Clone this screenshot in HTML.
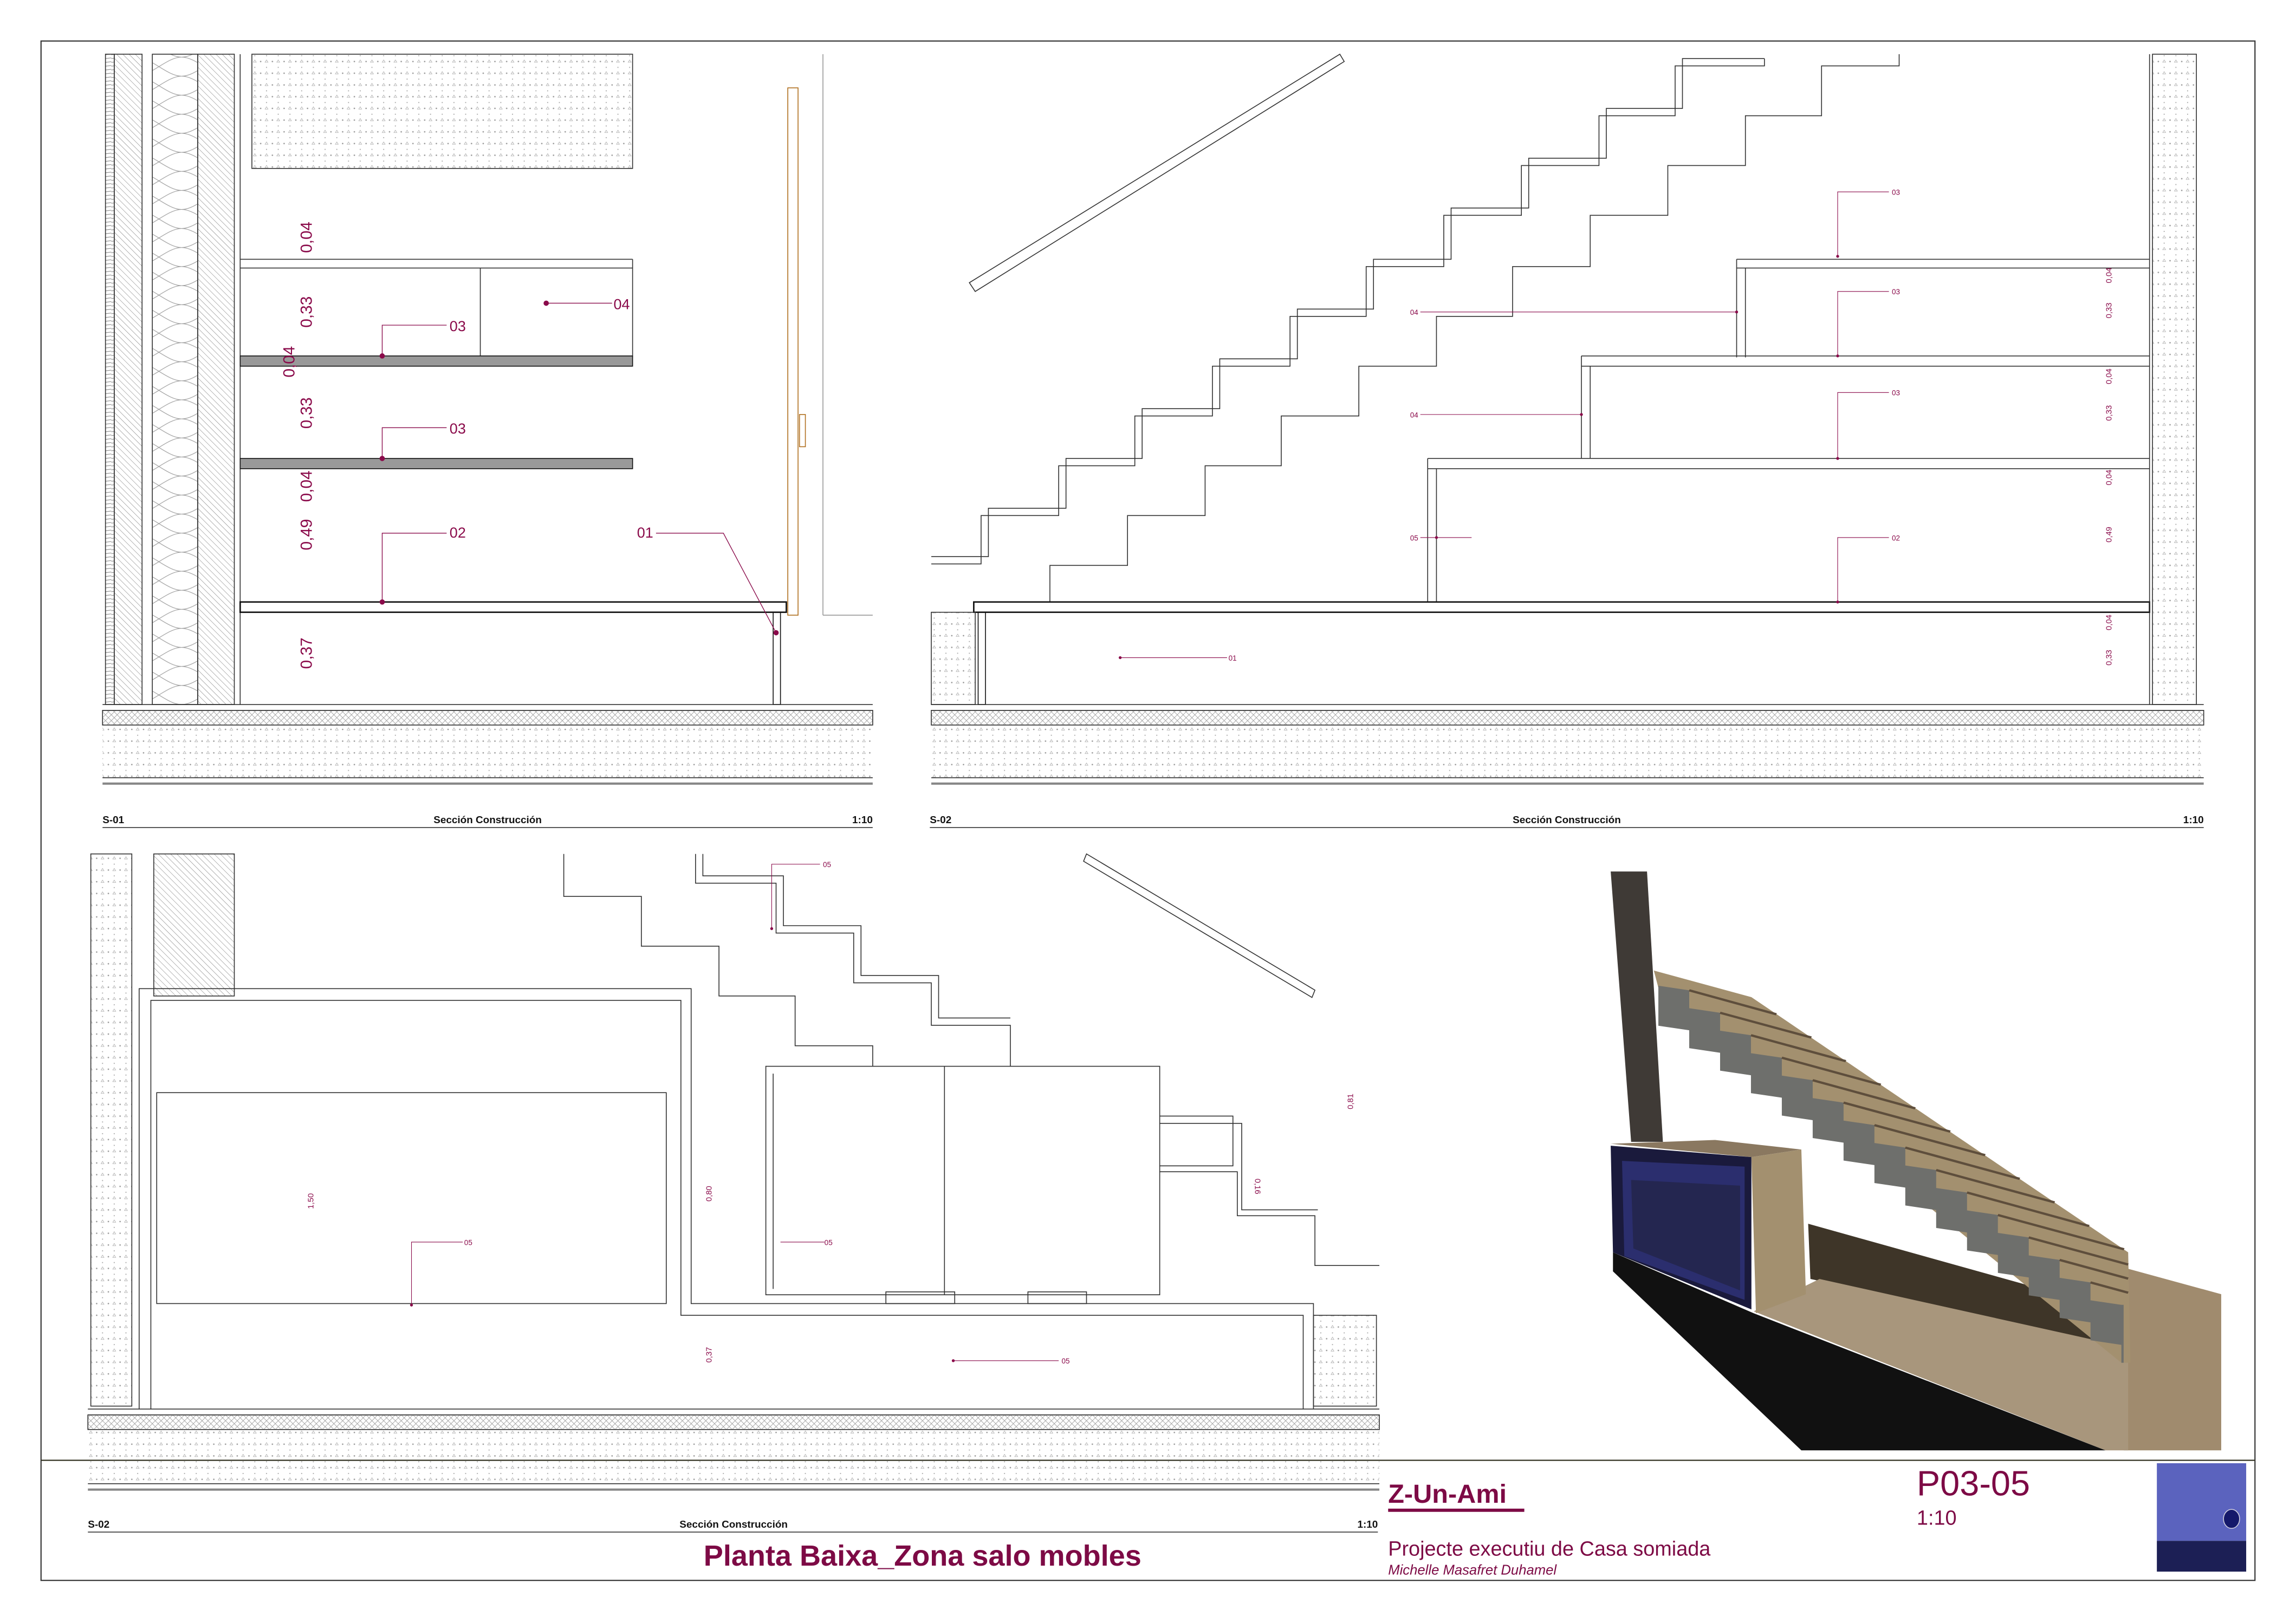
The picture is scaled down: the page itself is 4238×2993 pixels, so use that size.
<!DOCTYPE html>
<html><head><meta charset="utf-8"><style>
html,body{margin:0;padding:0;background:#fff}
svg{display:block}
text{font-family:"Liberation Sans",Arial,sans-serif}
</style></head><body>
<svg width="4238" height="2993" viewBox="0 0 1568 1107.4" xmlns="http://www.w3.org/2000/svg">
<defs>
<pattern id="dots" width="8" height="8" patternUnits="userSpaceOnUse"><circle cx="2" cy="2" r="0.5" fill="#999"/><circle cx="6" cy="6" r="0.4" fill="#aaa"/><path d="M5 2.5l1 -1.6 1 1.6z" fill="none" stroke="#aaa" stroke-width="0.3"/></pattern>
<pattern id="hatch" width="3" height="3" patternUnits="userSpaceOnUse" patternTransform="rotate(-45)"><line x1="0" y1="0" x2="0" y2="3" stroke="#777" stroke-width="0.4"/></pattern>
<pattern id="hh" width="4" height="2.6" patternUnits="userSpaceOnUse"><line x1="0" y1="1" x2="4" y2="0.5" stroke="#888" stroke-width="0.4"/></pattern>
<pattern id="ins2" width="31" height="13" patternUnits="userSpaceOnUse"><path d="M0 0 C10 0 21 13 31 13 M0 13 C10 13 21 0 31 0" fill="none" stroke="#999" stroke-width="0.4"/></pattern>
<pattern id="xh" width="4" height="4" patternUnits="userSpaceOnUse"><path d="M0 4L4 0M0 0L4 4" stroke="#999" stroke-width="0.3"/></pattern>
</defs>
<rect x="28" y="28" width="1512" height="1051" fill="none" stroke="#333" stroke-width="0.8"/>

<!-- ============ S-01 ============ -->
<g stroke="#333" stroke-width="0.6" fill="none">
<rect x="72" y="37" width="6" height="444" fill="url(#hh)"/>
<rect x="78" y="37" width="19" height="444" fill="url(#hatch)"/>
<rect x="104" y="37" width="31" height="444" fill="url(#ins2)"/>
<rect x="135" y="37" width="25" height="444" fill="url(#hatch)"/>
<line x1="164" y1="37" x2="164" y2="481"/>
<rect x="172" y="37" width="260" height="78" fill="url(#dots)"/>
<line x1="164" y1="177" x2="432" y2="177"/><line x1="164" y1="183" x2="432" y2="183"/>
<line x1="328" y1="183" x2="328" y2="244"/><line x1="432" y1="177" x2="432" y2="244"/>
<rect x="164" y="243" width="268" height="7" fill="#999" stroke="#111"/>
<rect x="164" y="313" width="268" height="7" fill="#999" stroke="#111"/>
<rect x="164" y="411" width="373" height="7" stroke="#111" stroke-width="1"/>
<rect x="528" y="418" width="5" height="63" stroke="#111"/>
<rect x="538" y="60" width="7" height="360" stroke="#b07020" stroke-width="0.6"/>
<rect x="546" y="283" width="4" height="22" stroke="#b07020"/>
<line x1="562" y1="37" x2="562" y2="420" stroke="#999"/><line x1="562" y1="420" x2="596" y2="420" stroke="#999"/>
<line x1="70" y1="481" x2="596" y2="481"/><line x1="70" y1="485" x2="596" y2="485"/>
<rect x="70" y="485" width="526" height="10" fill="url(#xh)"/>
<rect x="70" y="495" width="526" height="36" fill="url(#dots)" stroke="none"/>
<line x1="70" y1="531" x2="596" y2="531"/><line x1="70" y1="535" x2="596" y2="535" stroke-width="1.5" stroke="#888"/>
</g>
<g stroke="#8a0a4a" stroke-width="0.5" fill="none">
<polyline points="261,243 261,222 305,222"/><polyline points="261,313 261,292 305,292"/>
<polyline points="261,411 261,364 305,364"/><polyline points="373,207 418,207"/>
<polyline points="448,364 494,364 530,432"/>
</g>
<g fill="#8a0a4a"><circle cx="261" cy="243" r="1.8"/><circle cx="261" cy="313" r="1.8"/><circle cx="261" cy="411" r="1.8"/><circle cx="373" cy="207" r="1.8"/><circle cx="530" cy="432" r="1.8"/></g>
<g fill="#8a0a4a" font-size="10">
<text x="307" y="226">03</text><text x="307" y="296">03</text><text x="307" y="367">02</text><text x="419" y="211">04</text><text x="435" y="367">01</text>
</g>
<g fill="#8a0a4a" font-size="11" text-anchor="middle">
<text transform="translate(213,162) rotate(-90)">0,04</text>
<text transform="translate(213,213) rotate(-90)">0,33</text>
<text transform="translate(201,247) rotate(-90)">0,04</text>
<text transform="translate(213,282) rotate(-90)">0,33</text>
<text transform="translate(213,332) rotate(-90)">0,04</text>
<text transform="translate(213,365) rotate(-90)">0,49</text>
<text transform="translate(213,446) rotate(-90)">0,37</text>
</g>
<g font-size="7" font-weight="bold" fill="#111">
<text x="70" y="562">S-01</text><text x="333" y="562" text-anchor="middle">Sección Construcción</text><text x="596" y="562" text-anchor="end">1:10</text>
<text x="635" y="562">S-02</text><text x="1070" y="562" text-anchor="middle">Sección Construcción</text><text x="1505" y="562" text-anchor="end">1:10</text>
<text x="60" y="1043">S-02</text><text x="501" y="1043" text-anchor="middle">Sección Construcción</text><text x="941" y="1043" text-anchor="end">1:10</text>
</g>
<g stroke="#333" stroke-width="0.6"><line x1="70" y1="565" x2="596" y2="565"/><line x1="635" y1="565" x2="1505" y2="565"/><line x1="60" y1="1046" x2="941" y2="1046"/></g>

<!-- ============ S-02 top ============ -->
<g stroke="#333" stroke-width="0.6" fill="none">
<polygon points="662,193 915,37 918,42 666,199"/>
<polyline points="636,380 675,380 675,347 728,347 728,313 780,313 780,279 833,279 833,245 886,245 886,211 938,211 938,177 991,177 991,142 1044,142 1044,108 1097,108 1097,74 1149,74 1149,40 1205,40"/>
<polyline points="636,385 670,385 670,352 723,352 723,318 775,318 775,284 828,284 828,250 881,250 881,216 933,216 933,182 986,182 986,147 1039,147 1039,113 1092,113 1092,79 1144,79 1144,45 1205,45 1205,40"/>
<polyline points="1297,37 1297,45 1244,45 1244,79 1192,79 1192,113 1139,113 1139,147 1086,147 1086,182 1033,182 1033,216 981,216 981,250 928,250 928,284 875,284 875,318 823,318 823,352 770,352 770,386 717,386 717,411"/>
<line x1="1186" y1="177" x2="1468" y2="177"/><line x1="1186" y1="183" x2="1468" y2="183"/>
<line x1="1186" y1="177" x2="1186" y2="244"/><line x1="1192" y1="183" x2="1192" y2="244"/>
<line x1="1080" y1="243" x2="1468" y2="243"/><line x1="1080" y1="250" x2="1468" y2="250"/>
<line x1="1080" y1="243" x2="1080" y2="313"/><line x1="1086" y1="250" x2="1086" y2="313"/>
<line x1="975" y1="313" x2="1468" y2="313"/><line x1="975" y1="320" x2="1468" y2="320"/>
<line x1="975" y1="313" x2="975" y2="411"/><line x1="981" y1="320" x2="981" y2="411"/>
<rect x="665" y="411" width="803" height="7" stroke="#111" stroke-width="1"/>
<rect x="668" y="418" width="5" height="63" stroke="#111"/>
<rect x="636" y="418" width="30" height="63" fill="url(#dots)"/>
<rect x="1470" y="37" width="30" height="444" fill="url(#dots)"/>
<line x1="1468" y1="37" x2="1468" y2="481"/>
<line x1="636" y1="481" x2="1505" y2="481"/><line x1="636" y1="485" x2="1505" y2="485"/>
<rect x="636" y="485" width="869" height="10" fill="url(#xh)"/>
<rect x="636" y="495" width="869" height="36" fill="url(#dots)" stroke="none"/>
<line x1="636" y1="531" x2="1505" y2="531"/><line x1="636" y1="535" x2="1505" y2="535" stroke-width="1.5" stroke="#888"/>
</g>
<g stroke="#8a0a4a" stroke-width="0.4" fill="none">
<polyline points="1255,175 1255,131 1290,131"/><polyline points="1255,243 1255,199 1290,199"/><polyline points="1255,313 1255,268 1290,268"/><polyline points="1255,411 1255,367 1290,367"/>
<line x1="970" y1="213" x2="1186" y2="213"/><line x1="970" y1="283" x2="1080" y2="283"/><line x1="970" y1="367" x2="1005" y2="367"/><line x1="765" y1="449" x2="838" y2="449"/>
</g>
<g fill="#8a0a4a"><circle cx="1255" cy="175" r="1"/><circle cx="1255" cy="243" r="1"/><circle cx="1255" cy="313" r="1"/><circle cx="1255" cy="411" r="1"/><circle cx="1186" cy="213" r="1"/><circle cx="1080" cy="283" r="1"/><circle cx="981" cy="367" r="1"/><circle cx="765" cy="449" r="1"/></g>
<g fill="#8a0a4a" font-size="5">
<text x="1292" y="133">03</text><text x="1292" y="201">03</text><text x="1292" y="270">03</text><text x="1292" y="369">02</text>
<text x="963" y="215">04</text><text x="963" y="285">04</text><text x="963" y="369">05</text><text x="839" y="451">01</text>
</g>
<g fill="#8a0a4a" font-size="5.5" text-anchor="middle">
<text transform="translate(1442,188) rotate(-90)">0,04</text><text transform="translate(1442,212) rotate(-90)">0,33</text>
<text transform="translate(1442,257) rotate(-90)">0,04</text><text transform="translate(1442,282) rotate(-90)">0,33</text>
<text transform="translate(1442,326) rotate(-90)">0,04</text><text transform="translate(1442,365) rotate(-90)">0,49</text>
<text transform="translate(1442,425) rotate(-90)">0,04</text><text transform="translate(1442,449) rotate(-90)">0,33</text>
</g>

<!-- ============ S-02 bottom ============ -->
<g stroke="#333" stroke-width="0.6" fill="none">
<rect x="62" y="583" width="28" height="377" fill="url(#dots)"/>
<rect x="105" y="583" width="55" height="97" fill="url(#hatch)"/>
<polyline points="95,962 95,675 472,675 472,890 897,890 897,962"/>
<polyline points="103,962 103,683 465,683 465,898 890,898 890,962"/>
<rect x="107" y="746" width="348" height="144"/>
<polyline points="385,583 385,612 438,612 438,646 491,646 491,680 543,680 543,714 596,714 596,728"/>
<polyline points="475,583 475,603 530,603 530,637 583,637 583,671 636,671 636,700 690,700 690,728"/>
<polyline points="480,583 480,598 535,598 535,632 588,632 588,666 641,666 641,695 690,695"/>
<polyline points="792,762 842,762 842,796 792,796"/><polyline points="792,800 845,800 845,830 898,830 898,864 942,864"/><polyline points="792,767 848,767 848,826 900,826"/>
<polygon points="742,583 898,676 896,681 740,588"/>
<rect x="523" y="728" width="269" height="156"/><line x1="645" y1="728" x2="645" y2="884"/><line x1="528" y1="733" x2="528" y2="880"/>
<rect x="605" y="882" width="47" height="8"/><rect x="702" y="882" width="40" height="8"/>
<rect x="897" y="898" width="43" height="62" fill="url(#dots)"/>
<line x1="60" y1="962" x2="942" y2="962"/><line x1="60" y1="966" x2="942" y2="966"/>
<rect x="60" y="966" width="882" height="10" fill="url(#xh)"/>
<rect x="60" y="976" width="882" height="37" fill="url(#dots)" stroke="none"/>
<line x1="60" y1="1013" x2="942" y2="1013"/><line x1="60" y1="1017" x2="942" y2="1017" stroke-width="1.5" stroke="#888"/>
</g>
<g stroke="#8a0a4a" stroke-width="0.4" fill="none">
<polyline points="281,891 281,848 316,848"/><polyline points="533,848 563,848"/><polyline points="527,634 527,590 560,590"/><polyline points="651,929 723,929"/>
</g>
<g fill="#8a0a4a"><circle cx="281" cy="891" r="1"/><circle cx="527" cy="634" r="1"/><circle cx="651" cy="929" r="1"/></g>
<g fill="#8a0a4a" font-size="5"><text x="317" y="850">05</text><text x="563" y="850">05</text><text x="562" y="592">05</text><text x="725" y="931">05</text></g>
<g fill="#8a0a4a" font-size="5.5" text-anchor="middle">
<text transform="translate(214,820) rotate(-90)">1,50</text><text transform="translate(486,815) rotate(-90)">0,80</text>
<text transform="translate(924,752) rotate(-90)">0,81</text><text transform="translate(857,810) rotate(90)">0,16</text>
<text transform="translate(486,925) rotate(-90)">0,37</text>
</g>

<!-- ============ 3D render ============ -->
<g transform="translate(1069,584.6) scale(0.31,0.26)">
<polygon points="535,965 1240,1200 1240,1290 540,1110" fill="#3e3528"/>
<polygon points="1230,1080 1445,1150 1445,1560 1230,1560" fill="#a08b6e"/>
<polygon points="415,1195 560,1110 1240,1290 1240,1560 1190,1560" fill="#a8967c"/>
<polygon points="105,1040 105,1090 520,1560 1190,1560 415,1200" fill="#111"/>
<polygon points="195,300 410,370 1240,1040 1245,1330 1225,1330 205,345" fill="#a3906f"/>
<polygon fill="#6e6f6c" points="205,340 273,352 273,399 341,411 341,458 409,470 409,517 477,529 477,576 545,588 545,635 613,647 613,694 681,706 681,753 749,765 749,812 817,824 817,871 885,883 885,930 953,942 953,989 1021,1001 1021,1048 1089,1060 1089,1107 1157,1119 1157,1166 1225,1178 1230,1178 1230,1330 1225,1330 1225,1283 1157,1271 1157,1224 1089,1212 1089,1165 1021,1153 1021,1106 953,1094 953,1047 885,1035 885,988 817,976 817,929 749,917 749,870 681,858 681,811 613,799 613,752 545,740 545,693 477,681 477,634 409,622 409,575 341,563 341,516 273,504 273,457 205,445"/>
<g stroke="#5e4e3c" stroke-width="6">
<line x1="273" y1="352" x2="465" y2="415"/><line x1="341" y1="411" x2="542" y2="476"/><line x1="409" y1="470" x2="618" y2="538"/>
<line x1="477" y1="529" x2="695" y2="600"/><line x1="545" y1="588" x2="771" y2="662"/><line x1="613" y1="647" x2="848" y2="723"/>
<line x1="681" y1="706" x2="925" y2="785"/><line x1="749" y1="765" x2="1001" y2="847"/><line x1="817" y1="824" x2="1078" y2="909"/>
<line x1="885" y1="883" x2="1154" y2="971"/><line x1="953" y1="942" x2="1231" y2="1032"/><line x1="1021" y1="1001" x2="1240" y2="1072"/>
<line x1="1089" y1="1060" x2="1240" y2="1109"/><line x1="1157" y1="1119" x2="1240" y2="1146"/>
</g>
<polygon points="100,40 180,40 215,750 145,750" fill="#3f3a36"/>
<polygon points="100,755 330,745 520,770 410,790" fill="#8a7860"/>
<polygon points="100,760 410,790 410,1190 105,1040" fill="#1a1a3c"/>
<polygon points="125,800 395,815 395,1165 130,1050" fill="#2b2e6e"/>
<polygon points="145,850 385,865 385,1140 150,1030" fill="#242650"/>
<polygon points="410,790 520,770 530,1150 420,1200" fill="#a3906f"/>
</g>

<!-- ============ title block ============ -->
<line x1="28" y1="997" x2="1540" y2="997" stroke="#332" stroke-width="0.8"/>
<text x="630" y="1069" text-anchor="middle" font-size="20" font-weight="bold" fill="#7d0a45">Planta Baixa_Zona salo mobles</text>
<text x="948" y="1026" font-size="18" font-weight="bold" fill="#7d0a45">Z-Un-Ami</text>
<rect x="948" y="1030" width="93" height="2.2" fill="#7d0a45"/>
<text x="948" y="1062" font-size="14" fill="#7d0a45">Projecte executiu de Casa somiada</text>
<text x="948" y="1075" font-size="9.5" font-style="italic" fill="#7d0a45">Michelle Masafret Duhamel</text>
<text x="1309" y="1021" font-size="24" fill="#7d0a45">P03-05</text>
<text x="1309" y="1041" font-size="14" fill="#7d0a45">1:10</text>
<rect x="1473" y="999" width="61" height="53" fill="#5b63be"/>
<rect x="1473" y="1052" width="61" height="21" fill="#1c1f55"/>
<ellipse cx="1524" cy="1037" rx="5.5" ry="6.5" fill="#14186a" stroke="#ccd" stroke-width="0.6"/>
</svg>
</body></html>
